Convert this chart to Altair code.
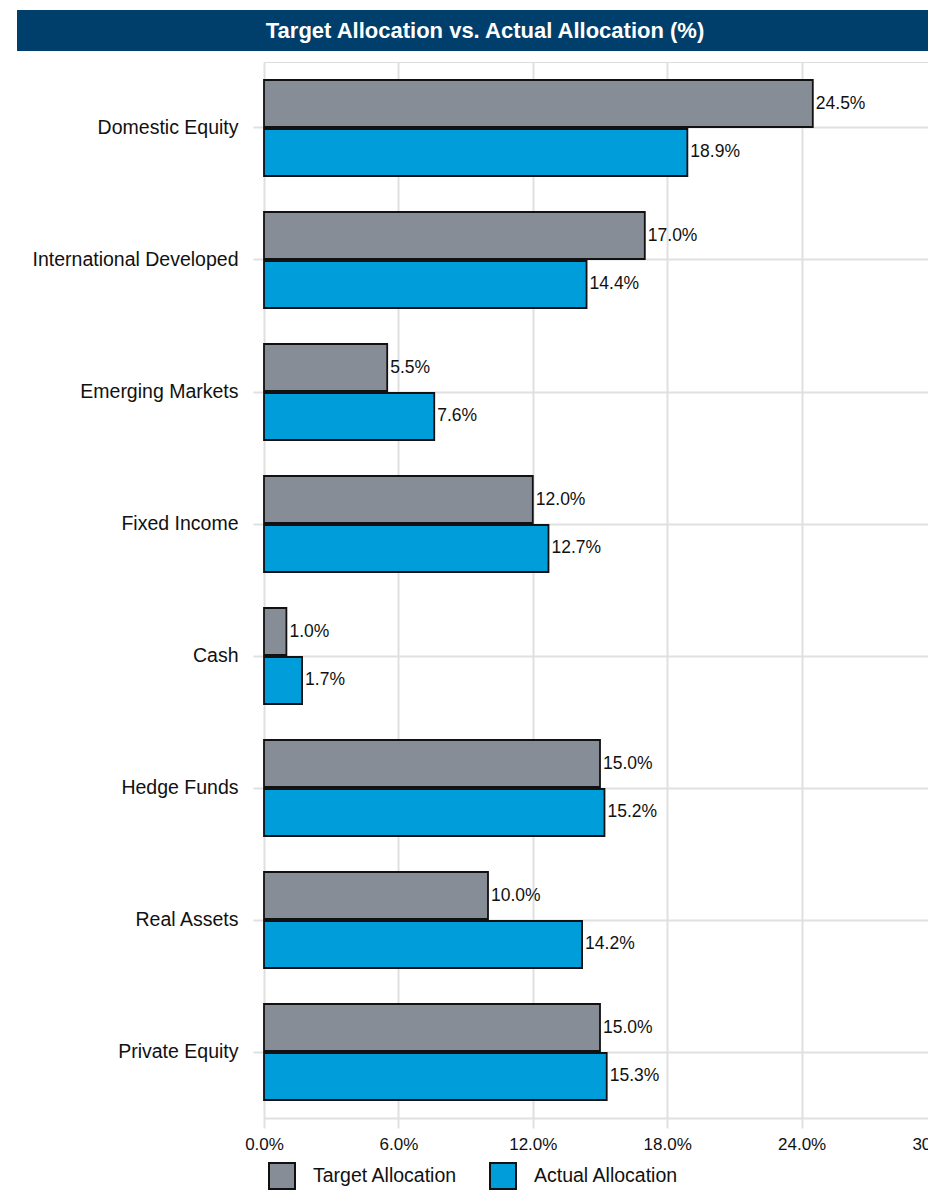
import altair as alt
import pandas as pd

categories = ["Domestic Equity", "International Developed\u00a0", "Emerging Markets",
              "Fixed Income\u00a0", "Cash", "Hedge Funds", "Real Assets", "Private Equity"]
target = [24.5, 17.0, 5.5, 12.0, 1.0, 15.0, 10.0, 15.0]
actual = [18.9, 14.4, 7.6, 12.7, 1.7, 15.2, 14.2, 15.3]
series = ["Target Allocation", "Actual Allocation"]
x_ticks = [0, 6, 12, 18, 24, 30]
title_text = "Target Allocation vs. Actual Allocation (%)"

rows = []
for c, t, a in zip(categories, target, actual):
    rows.append({"category": c, "series": series[0], "value": t})
    rows.append({"category": c, "series": series[1], "value": a})
df = pd.DataFrame(rows)

FONT = "Liberation Sans, Arial, sans-serif"
GRAY = "#878d96"
BLUE = "#009ddb"
NAVY = "#003e6b"
GRID = "#e0e0e0"
W, H = 672, 1056

y_enc = alt.Y("category:N", sort=categories,
              scale=alt.Scale(paddingInner=0.273, paddingOuter=0.1365),
              axis=alt.Axis(title=None, domain=False, ticks=True, tickColor=GRID,
                            tickSize=11, tickWidth=2, labelPadding=15, labelLimit=0,
                            labelFontSize=19.5, labelFont=FONT, labelColor="#111",
                            grid=True, gridColor=GRID, gridWidth=2))
yoff = alt.YOffset("series:N", sort=series, scale=alt.Scale(paddingInner=0.04))
x_enc = alt.X("value:Q", scale=alt.Scale(domain=[0, 30], nice=False),
              axis=alt.Axis(values=x_ticks, labelExpr="format(datum.value, '.1f') + '%'",
                            title=None, domain=True, domainColor=GRID, domainWidth=2,
                            tickColor=GRID, tickSize=10, tickWidth=2, labelPadding=8,
                            labelFlush=False, labelOverlap=False,
                            labelFontSize=17, labelFont=FONT, labelColor="#111",
                            grid=True, gridColor=GRID, gridWidth=2))

banner = alt.Chart(pd.DataFrame({"t": [title_text]})).mark_rect(color=NAVY).encode(
    x=alt.value(-247), x2=alt.value(W), y=alt.value(-52), y2=alt.value(-11))
banner_text = alt.Chart(pd.DataFrame({"t": [title_text]})).mark_text(
    color="white", font=FONT, fontSize=22, fontWeight="bold",
    align="center", baseline="middle").encode(
    x=alt.value(221), y=alt.value(-31), text="t:N")

bars = alt.Chart(df).mark_bar(stroke="#111", strokeWidth=1.8).encode(
    x=x_enc, y=y_enc, yOffset=yoff,
    color=alt.Color("series:N",
                    scale=alt.Scale(domain=series, range=[GRAY, BLUE]),
                    legend=alt.Legend(title=None, orient="none", legendX=4, legendY=1100,
                                      direction="horizontal", symbolType="square",
                                      symbolSize=676, symbolStrokeWidth=2,
                                      symbolStrokeColor="#111", symbolOpacity=1,
                                      labelFontSize=19.5, labelFont=FONT, labelColor="#111",
                                      labelLimit=0, labelOffset=17, columnPadding=28,
                                      padding=0)))

labels = alt.Chart(df).transform_calculate(
    label="format(datum.value, '.1f') + '%'").mark_text(
    align="left", baseline="middle", dx=3, fontSize=17.5, font=FONT, color="#111").encode(
    x=x_enc, y=y_enc, yOffset=yoff, text="label:N")

chart = alt.layer(banner, bars, labels, banner_text).properties(
    width=W, height=H,
    autosize=alt.AutoSizeParams(type="none"),
    padding={"left": 256, "top": 54, "right": -8, "bottom": 72},
).configure_view(stroke=None).configure(background="white")

chart.save("out.html", embed_options={"renderer": "svg", "actions": False})
